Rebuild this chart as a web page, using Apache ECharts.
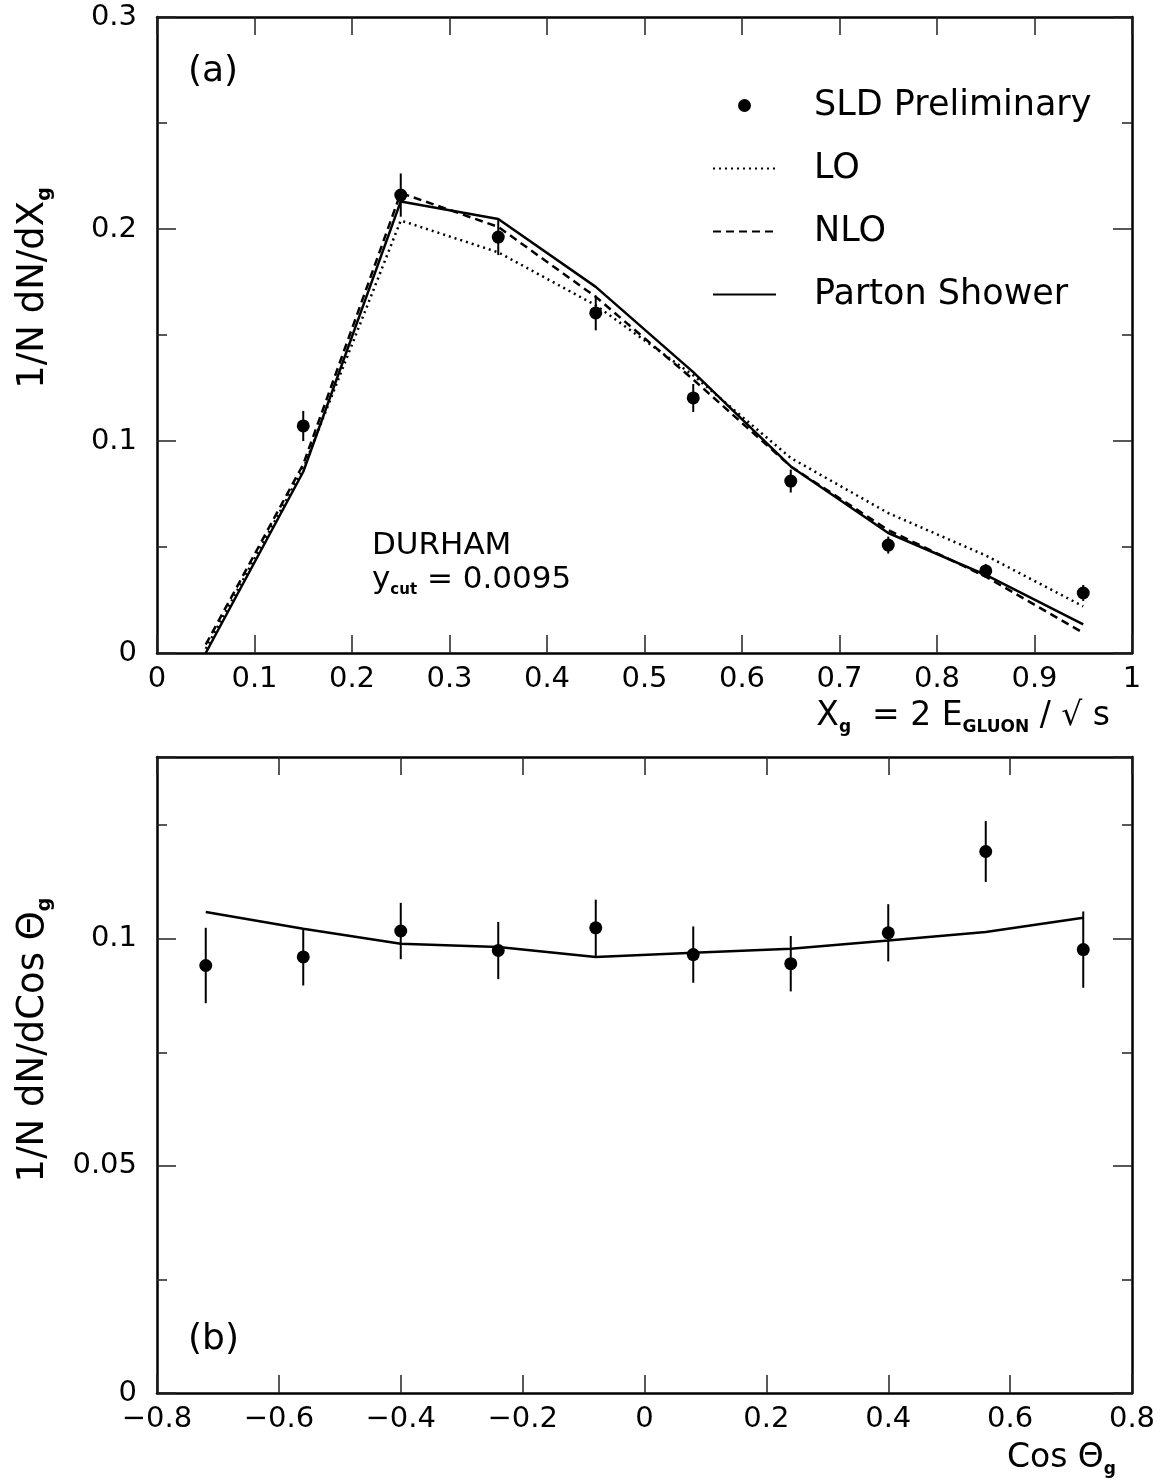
<!DOCTYPE html>
<html>
<head>
<meta charset="utf-8">
<script src="https://cdn.jsdelivr.net/npm/echarts@6/dist/echarts.min.js"></script>
<style>
  html, body { margin: 0; padding: 0; background: #fff; }
  #chart { width: 1165px; height: 1483px; }
</style>
</head>
<body>
<div id="chart"></div>
<script>
// ---- panel (a): gluon energy spectrum ----
const xgBins = [0.05, 0.15, 0.25, 0.35, 0.45, 0.55, 0.65, 0.75, 0.85, 0.95];
const xgLO  = [0.002, 0.087, 0.204, 0.189, 0.164, 0.131, 0.092, 0.066, 0.046, 0.022];
const xgNLO = [0.004, 0.089, 0.217, 0.201, 0.168, 0.129, 0.088, 0.058, 0.036, 0.0095];
const xgPS  = [0.000, 0.0855, 0.213, 0.2047, 0.1727, 0.1325, 0.088, 0.0566, 0.0368, 0.0135];

const xgData = [0.15, 0.25, 0.35, 0.45, 0.55, 0.65, 0.75, 0.85, 0.95];
const xgVal  = [0.1071, 0.2160, 0.1962, 0.1604, 0.1203, 0.0811, 0.0509, 0.0387, 0.0283];
const xgErr  = [0.0071, 0.0102, 0.0085, 0.0082, 0.0066, 0.0054, 0.0040, 0.0033, 0.0038];

// ---- panel (b): gluon polar angle ----
const cosBins = [-0.72, -0.56, -0.40, -0.24, -0.08, 0.08, 0.24, 0.40, 0.56, 0.72];
const cosVal  = [0.0941, 0.0960, 0.1017, 0.0974, 0.1024, 0.0965, 0.0945, 0.1013, 0.1192, 0.0976];
const cosErr  = [0.0083, 0.0063, 0.0062, 0.0063, 0.0062, 0.0062, 0.0061, 0.0063, 0.0067, 0.0084];
const cosPS   = [0.1059, 0.1022, 0.0989, 0.0982, 0.0960, 0.0969, 0.0978, 0.0996, 0.1015, 0.1046];

const FONT = '"DejaVu Sans", sans-serif';
const zip = (xs, ys) => xs.map((x, i) => [x, ys[i]]);
const zip3 = (xs, ys, es) => xs.map((x, i) => [x, ys[i], es[i]]);

function fmtNum(v) {
  const s = String(Number(v.toFixed(3)));
  return s.replace('-', '\u2212');
}

const frameLine = { show: true, onZero: false, lineStyle: { color: '#000', width: 2.5 } };
const tickStyle = { color: '#222', width: 1.5 };

function xAxisPair(grid, min, max, interval) {
  const base = {
    type: 'value', gridIndex: grid, min, max, interval,
    axisLine: frameLine,
    axisTick: { show: true, inside: true, length: 18, lineStyle: tickStyle },
    splitLine: { show: false }
  };
  return [
    Object.assign({}, base, {
      position: 'bottom',
      axisLabel: { show: true, margin: 12, fontFamily: FONT, fontSize: 29, color: '#000', formatter: fmtNum }
    }),
    Object.assign({}, base, { position: 'top', axisLabel: { show: false } })
  ];
}

function yAxis(grid, pos, min, max, interval, opts) {
  return Object.assign({
    type: 'value', gridIndex: grid, position: pos, min, max, interval,
    axisLine: frameLine,
    axisTick: { show: true, inside: true, length: 19, lineStyle: tickStyle },
    axisLabel: { show: false },
    splitLine: { show: false }
  }, opts || {});
}

const yLabel = (maxShown) => ({
  show: true, margin: 20, fontFamily: FONT, fontSize: 29, color: '#000',
  showMaxLabel: true,
  formatter: v => (v > maxShown + 1e-9 ? '' : fmtNum(v))
});

// short ticks every 0.025 on the (b) frame
const minorTickOnly = {
  axisLine: { show: false, onZero: false },
  axisTick: { show: true, inside: true, length: 10, lineStyle: tickStyle }
};

function errorBars(name, xi, yi, rows) {
  return {
    name, type: 'custom', xAxisIndex: xi, yAxisIndex: yi,
    data: rows, encode: { x: 0, y: 1 }, silent: true, z: 3,
    renderItem(params, api) {
      const x = api.value(0), y = api.value(1), e = api.value(2);
      const lo = api.coord([x, y - e]);
      const hi = api.coord([x, y + e]);
      return {
        type: 'line',
        shape: { x1: lo[0], y1: lo[1], x2: hi[0], y2: hi[1] },
        style: { stroke: '#000', lineWidth: 2 }
      };
    }
  };
}

const lineSeries = (name, xi, yi, data, type, width) => ({
  name, type: 'line', xAxisIndex: xi, yAxisIndex: yi, data,
  symbol: 'none', smooth: false, z: 2,
  lineStyle: { color: '#000', width, type },
  // no markers on the curves, so none in their legend keys either
  itemStyle: { color: '#000', opacity: 0 }
});

const dots = (xi, yi, data) => ({
  name: 'SLD Preliminary', type: 'scatter', xAxisIndex: xi, yAxisIndex: yi,
  data, symbol: 'circle', symbolSize: 13, z: 4,
  itemStyle: { color: '#000', opacity: 1 }
});

const yTitle = { fontFamily: FONT, fontSize: 37, color: '#000', lineHeight: 44 };
const ySub = { fontFamily: FONT, fontSize: 19, fontWeight: 'bold', color: '#000', lineHeight: 19, verticalAlign: 'bottom' };
const xTitle = { fontFamily: FONT, fontSize: 33, color: '#000', lineHeight: 40 };
const xSub = { fontFamily: FONT, fontSize: 17, fontWeight: 'bold', color: '#000', lineHeight: 17, verticalAlign: 'bottom' };

const option = {
  animation: false,
  backgroundColor: '#fff',
  grid: [
    { left: 157, right: 33, top: 17, height: 636 },
    { left: 157, right: 33, top: 757, height: 636 }
  ],
  xAxis: [
    ...xAxisPair(0, 0, 1, 0.1),
    ...xAxisPair(1, -0.8, 0.8, 0.2)
  ],
  yAxis: [
    yAxis(0, 'left', 0, 0.3, 0.1, {
      axisLabel: yLabel(0.3),
      minorTick: { show: true, splitNumber: 2, length: 10, lineStyle: tickStyle }
    }),
    yAxis(0, 'right', 0, 0.3, 0.1, {
      minorTick: { show: true, splitNumber: 2, length: 10, lineStyle: tickStyle }
    }),
    yAxis(1, 'left', 0, 0.14, 0.05, { axisLabel: yLabel(0.1) }),
    yAxis(1, 'right', 0, 0.14, 0.05),
    yAxis(1, 'left', 0, 0.14, 0.025, minorTickOnly),
    yAxis(1, 'right', 0, 0.14, 0.025, minorTickOnly)
  ],
  legend: {
    left: 707, top: 80, orient: 'vertical',
    itemWidth: 63, itemHeight: 13, itemGap: 22,
    selectedMode: false,
    data: ['SLD Preliminary', 'LO', 'NLO', 'Parton Shower'],
    textStyle: { fontFamily: FONT, fontSize: 35, color: '#000', lineHeight: 41, padding: [0, 0, 0, 33] }
  },
  series: [
    lineSeries('LO', 0, 0, zip(xgBins, xgLO), [2, 4], 2.5),
    lineSeries('NLO', 0, 0, zip(xgBins, xgNLO), [8, 5], 2.5),
    lineSeries('Parton Shower', 0, 0, zip(xgBins, xgPS), 'solid', 2.5),
    errorBars('SLD errors', 0, 0, zip3(xgData, xgVal, xgErr)),
    dots(0, 0, zip(xgData, xgVal)),

    lineSeries('Parton Shower', 2, 2, zip(cosBins, cosPS), 'solid', 2.5),
    errorBars('SLD errors', 2, 2, zip3(cosBins, cosVal, cosErr)),
    dots(2, 2, zip(cosBins, cosVal))
  ],
  graphic: [
    { type: 'text', x: 188, y: 72, style: { text: '(a)', fontFamily: FONT, fontSize: 36, fill: '#000', verticalAlign: 'middle' } },
    { type: 'text', x: 188, y: 1340, style: { text: '(b)', fontFamily: FONT, fontSize: 36, fill: '#000', verticalAlign: 'middle' } },
    { type: 'text', x: 372, y: 546, style: { text: 'DURHAM', fontFamily: FONT, fontSize: 31, fill: '#000', verticalAlign: 'middle' } },
    {
      type: 'text', x: 372, y: 580,
      style: {
        text: '{m|y}{s|cut}{m| = 0.0095}', verticalAlign: 'middle',
        rich: {
          m: { fontFamily: FONT, fontSize: 31, color: '#000', lineHeight: 36 },
          s: { fontFamily: FONT, fontSize: 15, fontWeight: 'bold', color: '#000', lineHeight: 16, verticalAlign: 'bottom' }
        }
      }
    },
    {
      type: 'text', x: 33, y: 288, rotation: Math.PI / 2,
      style: { text: '{m|1/N dN/dX}{s|g}', align: 'center', verticalAlign: 'middle', rich: { m: yTitle, s: ySub } }
    },
    {
      type: 'text', x: 33, y: 1040, rotation: Math.PI / 2,
      style: { text: '{m|1/N dN/dCos \u0398}{s|g}', align: 'center', verticalAlign: 'middle', rich: { m: yTitle, s: ySub } }
    },
    {
      type: 'text', x: 1110, y: 716,
      style: {
        text: '{m|X}{s|g}{m|  = 2 E}{s|GLUON}{m| / \u221A s}', align: 'right', verticalAlign: 'middle',
        rich: { m: xTitle, s: xSub }
      }
    },
    {
      type: 'text', x: 1116, y: 1458,
      style: { text: '{m|Cos \u0398}{s|g}', align: 'right', verticalAlign: 'middle', rich: { m: xTitle, s: xSub } }
    }
  ]
};

const chart = echarts.init(document.getElementById('chart'), null, { renderer: 'canvas' });
chart.setOption(option);
</script>
</body>
</html>
